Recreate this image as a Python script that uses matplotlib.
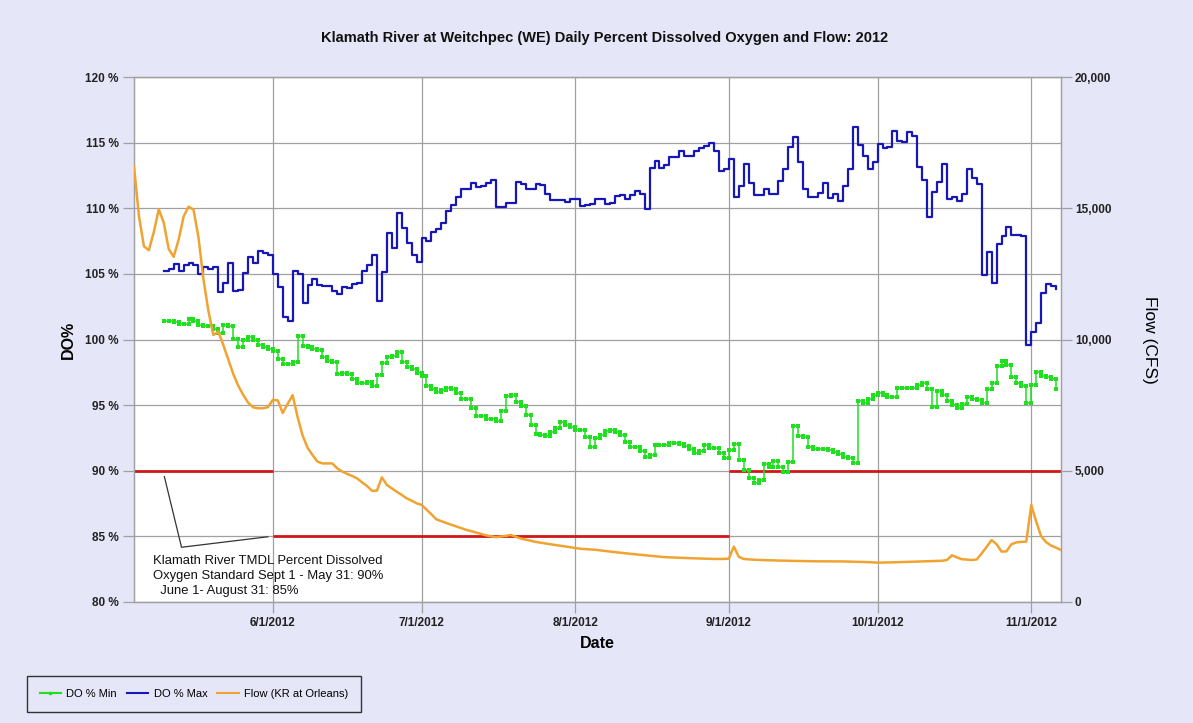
import numpy as np
import pandas as pd
import matplotlib
matplotlib.use('Agg')
import matplotlib.pyplot as plt
from matplotlib.lines import Line2D
from matplotlib.ticker import FuncFormatter

plt.rcParams['font.family'] = ['Liberation Sans', 'DejaVu Sans']

## Daily DO values (%), one per day starting 5/10/2012
do_start = '2012-05-10'
do_max = [105.2, 105.4, 105.73, 105.2, 105.7, 105.85, 105.7, 105.0, 105.55, 105.35, 105.55,
          103.65, 104.3, 105.85, 103.7, 103.8, 105.1, 106.3, 105.8, 106.72, 106.6, 106.46,
          # June
          105.0, 104.0, 101.74, 101.4, 105.2, 105.0, 102.76, 104.15, 104.6, 104.15, 104.1, 104.1,
          103.7, 103.47, 104.0, 103.9, 104.25, 104.3, 105.2, 105.7, 106.44, 102.9, 105.17, 108.14,
          106.95, 109.66, 108.47, 107.33, 106.44, 105.93,
          # July
          107.71, 107.53, 108.21, 108.39, 108.85, 109.81, 110.25, 110.88, 111.44, 111.44, 111.95,
          111.6, 111.7, 111.95, 112.15, 110.12, 110.12, 110.42, 110.42, 112.0, 111.85, 111.5,
          111.5, 111.85, 111.77, 111.1, 110.6, 110.65, 110.6, 110.45, 110.7,
          # August
          110.7, 110.2, 110.25, 110.3, 110.7, 110.7, 110.35, 110.4, 110.9, 111.0, 110.7, 111.0,
          111.3, 111.1, 109.92, 113.04, 113.62, 113.04, 113.3, 113.88, 113.88, 114.36, 113.98,
          113.98, 114.36, 114.57, 114.74, 114.95, 114.36, 112.84, 112.97,
          # September
          113.75, 110.83, 111.7, 113.35, 111.95, 111.0, 111.0, 111.44, 111.09, 111.09, 112.1,
          112.99, 114.64, 115.4, 113.55, 111.44, 110.83, 110.83, 111.2, 111.95, 110.76, 111.09,
          110.58, 111.7, 112.97, 116.17, 114.82, 113.98, 112.97, 113.55,
          # October
          114.9, 114.57, 114.7, 115.9, 115.15, 115.07, 115.83, 115.5, 113.17, 112.15, 109.36,
          111.26, 112.02, 113.37, 110.68, 110.83, 110.58, 111.09, 112.97, 112.28, 111.85, 104.91,
          106.69, 104.33, 107.28, 107.89, 108.55, 107.96, 107.96, 107.89, 99.58,
          # November
          100.6, 101.28, 103.57, 104.23, 104.08, 103.85]

do_min = [101.44, 101.4, 101.3, 101.2, 101.15, 101.59, 101.44, 101.1, 101.05, 101.0, 100.8,
          100.53, 101.1, 101.0, 100.07, 99.4, 99.95, 100.2, 99.95, 99.6, 99.45, 99.3,
          # June
          99.15, 98.55, 98.1, 98.1, 98.3, 100.25, 99.5, 99.45, 99.3, 99.2, 98.7, 98.4, 98.25,
          97.4, 97.45, 97.4, 97.0, 96.65, 96.7, 96.75, 96.45, 97.3, 98.24, 98.7, 98.75, 99.05,
          98.31, 97.93, 97.73, 97.47,
          # July
          97.22, 96.46, 96.2, 96.02, 96.15, 96.3, 96.2, 95.9, 95.44, 95.5, 94.76, 94.17, 94.14,
          93.97, 93.95, 93.81, 94.57, 95.7, 95.8, 95.26, 94.93, 94.25, 93.49, 92.8, 92.7, 92.65,
          92.95, 93.26, 93.71, 93.5, 93.3,
          # August
          93.1, 93.1, 92.55, 91.83, 92.5, 92.72, 93.0, 93.1, 92.97, 92.72, 92.21, 91.83, 91.78,
          91.53, 91.07, 91.2, 91.96, 91.96, 91.96, 92.14, 92.09, 92.04, 91.88, 91.63, 91.32,
          91.53, 91.96, 91.7, 91.7, 91.32, 90.94,
          # September
          91.58, 92.04, 90.82, 90.06, 89.42, 89.09, 89.29, 90.51, 90.32, 90.77, 90.32, 89.93,
          90.7, 93.41, 92.65, 92.55, 91.83, 91.63, 91.63, 91.63, 91.58, 91.45, 91.27, 91.07,
          90.94, 90.57, 95.34, 95.14, 95.44, 95.77,
          # October
          95.9, 95.77, 95.64, 95.59, 96.28, 96.28, 96.28, 96.28, 96.53, 96.66, 96.2, 94.83, 96.1,
          95.77, 95.34, 95.01, 94.76, 95.09, 95.59, 95.44, 95.4, 95.2, 96.2, 96.66, 97.98, 98.39,
          98.06, 97.17, 96.71, 96.45, 95.14,
          # November
          96.53, 97.55, 97.22, 97.17, 96.97, 96.2]

## Flow at Orleans (CFS)
flow_dates = ['2012-05-04', '2012-05-05', '2012-05-06', '2012-05-07', '2012-05-08', '2012-05-09',
              '2012-05-10', '2012-05-11', '2012-05-12', '2012-05-13', '2012-05-14', '2012-05-15',
              '2012-05-16', '2012-05-17', '2012-05-18', '2012-05-19', '2012-05-20', '2012-05-21',
              '2012-05-22', '2012-05-23', '2012-05-24', '2012-05-25', '2012-05-26', '2012-05-27',
              '2012-05-28', '2012-05-29', '2012-05-30', '2012-05-31', '2012-06-01', '2012-06-02',
              '2012-06-03', '2012-06-04', '2012-06-05', '2012-06-06', '2012-06-07', '2012-06-08',
              '2012-06-09', '2012-06-10', '2012-06-11', '2012-06-12', '2012-06-13', '2012-06-14',
              '2012-06-15', '2012-06-16', '2012-06-17', '2012-06-18', '2012-06-19', '2012-06-20',
              '2012-06-21', '2012-06-22', '2012-06-23', '2012-06-24', '2012-06-25', '2012-06-26',
              '2012-06-27', '2012-06-28', '2012-06-29', '2012-06-30', '2012-07-01', '2012-07-02',
              '2012-07-03', '2012-07-04', '2012-07-06', '2012-07-08', '2012-07-10', '2012-07-12',
              '2012-07-14', '2012-07-16', '2012-07-18', '2012-07-19', '2012-07-21', '2012-07-24',
              '2012-07-27', '2012-07-30', '2012-08-02', '2012-08-05', '2012-08-09', '2012-08-14',
              '2012-08-19', '2012-08-24', '2012-08-29', '2012-08-31', '2012-09-01', '2012-09-02',
              '2012-09-03', '2012-09-04', '2012-09-06', '2012-09-09', '2012-09-14', '2012-09-19',
              '2012-09-24', '2012-09-29', '2012-10-01', '2012-10-04', '2012-10-09', '2012-10-14',
              '2012-10-15', '2012-10-16', '2012-10-17', '2012-10-18', '2012-10-20', '2012-10-21',
              '2012-10-22', '2012-10-23', '2012-10-24', '2012-10-25', '2012-10-26', '2012-10-27',
              '2012-10-28', '2012-10-29', '2012-10-30', '2012-10-31', '2012-11-01', '2012-11-02',
              '2012-11-03', '2012-11-04', '2012-11-05', '2012-11-06', '2012-11-07']
flow_cfs = [16600, 14700, 13550, 13400, 14100, 14960, 14450, 13450, 13150, 13800, 14680, 15060,
            14950, 13900, 12300, 11100, 10170, 10300, 9800, 9250, 8700, 8250, 7900, 7600,
            7420, 7380, 7380, 7420, 7700, 7680, 7200, 7550, 7880, 7050, 6350, 5880,
            5600, 5350, 5280, 5280, 5280, 5090, 4970, 4880, 4800, 4710, 4560, 4420,
            4240, 4240, 4750, 4460, 4330, 4200, 4080, 3950, 3860, 3760, 3700, 3520,
            3340, 3150, 3010, 2880, 2750, 2650, 2540, 2470, 2520, 2553, 2420, 2290,
            2200, 2115, 2030, 1990, 1900, 1800, 1710, 1670, 1640, 1640, 1650, 2110,
            1720, 1640, 1610, 1590, 1565, 1550, 1545, 1520, 1500, 1510, 1540, 1570,
            1600, 1780, 1700, 1630, 1600, 1620, 1850, 2100, 2360, 2200, 1920, 1930,
            2200, 2270, 2290, 2300, 3700, 3060, 2500, 2280, 2150, 2070, 1980]

## Standard (TMDL) segments
std_bounds = ['2012-05-04', '2012-06-01', '2012-09-01', '2012-11-07']
std_values = [90, 85, 90]

tick_dates = ['2012-06-01', '2012-07-01', '2012-08-01', '2012-09-01', '2012-10-01', '2012-11-01']
tick_labels = ['6/1/2012', '7/1/2012', '8/1/2012', '9/1/2012', '10/1/2012', '11/1/2012']
do_ticks = [80, 85, 90, 95, 100, 105, 110, 115, 120]
flow_ticks = [0, 5000, 10000, 15000, 20000]

bg = '#e5e6f7'
grid_c = '#a0a0a0'
c_min = '#1ee01e'
c_max = '#1717b8'
c_flow = '#f0a331'
c_std = '#d01818'

days = pd.date_range(do_start, periods=len(do_max), freq='D')
fdates = pd.to_datetime(flow_dates)

fig = plt.figure(figsize=(11.93, 7.23), dpi=100, facecolor=bg)
ax = fig.add_axes([134 / 1193, 121 / 723, 927 / 1193, 525 / 723])
ax.set_facecolor('white')

## standard lines
b = pd.to_datetime(std_bounds)
for i, v in enumerate(std_values):
	ax.plot([b[i], b[i + 1]], [v, v], color=c_std, lw=2, zorder=3, solid_capstyle='butt')

## DO step lines
ax.plot(days, do_max, color=c_max, lw=1.6, drawstyle='steps-post', zorder=4)
ax.plot(days, do_min, color=c_min, lw=1.1, drawstyle='steps-post', zorder=4)
ends = days[1:]
ax.plot(days, do_min, ls='none', marker='s', ms=2.8, mew=0, color=c_min, zorder=5)
ax.plot(ends, do_min[:-1], ls='none', marker='s', ms=2.8, mew=0, color=c_min, zorder=5)

ax.set_xlim(pd.Timestamp('2012-05-04'), pd.Timestamp('2012-11-07'))
ax.set_ylim(80, 120)
ax.set_yticks(do_ticks)
ax.set_yticklabels(['%d %%' % v for v in do_ticks], fontweight='bold', fontsize=8.5)
ax.set_xticks(pd.to_datetime(tick_dates))
ax.set_xticklabels(tick_labels, fontweight='bold', fontsize=8.5)
ax.grid(True, color=grid_c, lw=0.9)
ax.set_axisbelow(True)
ax.tick_params(axis='both', direction='out', length=8, width=0.9, color=grid_c, colors='#222222', pad=3)
ax.tick_params(axis='both', color=grid_c)
for s in ax.spines.values():
	s.set_color(grid_c)
	s.set_linewidth(0.9)

## flow on second axis
ax2 = ax.twinx()
ax2.plot(fdates, flow_cfs, color=c_flow, lw=1.8, zorder=6)
ax2.set_ylim(0, 20000)
ax2.set_yticks(flow_ticks)
ax2.yaxis.set_major_formatter(FuncFormatter(lambda v, p: '{:,}'.format(int(v))))
for t in ax2.get_yticklabels():
	t.set_fontweight('bold')
	t.set_fontsize(8.5)
ax2.tick_params(axis='y', direction='out', length=8, width=0.9, color=grid_c, labelcolor='#222222', pad=2)
for s in ax2.spines.values():
	s.set_color(grid_c)
	s.set_linewidth(0.9)

## annotation for the standard
lead_x = pd.to_datetime(['2012-05-10 03:00', '2012-05-13 14:00', '2012-05-31 00:00'])
lead_y = [89.55, 84.17, 84.97]
ax.plot(lead_x, lead_y, color='#333333', lw=0.9, zorder=7)
ax.text(0.02, 0.089, 'Klamath River TMDL Percent Dissolved\nOxygen Standard Sept 1 - May 31: 90%\n  June 1- August 31: 85%',
	transform=ax.transAxes, ha='left', va='top', fontsize=9.4, linespacing=1.3, color='#111111', zorder=8)

## titles
fig.text(605 / 1193, 1 - 38 / 723, 'Klamath River at Weitchpec (WE) Daily Percent Dissolved Oxygen and Flow: 2012',
	ha='center', va='center', fontsize=10.5, fontweight='bold', color='#111111')
fig.text(68 / 1193, 1 - 340 / 723, 'DO%', rotation=90, ha='center', va='center', fontsize=11.5, fontweight='bold')
fig.text(597 / 1193, 1 - 643 / 723, 'Date', ha='center', va='center', fontsize=11.5, fontweight='bold')
fig.text(1150 / 1193, 1 - 340 / 723, 'Flow (CFS)', rotation=270, ha='center', va='center', fontsize=12.5)

## legend
handles = [Line2D([], [], color=c_min, lw=1.5, marker='s', ms=1.5),
	Line2D([], [], color=c_max, lw=1.5),
	Line2D([], [], color=c_flow, lw=1.5)]
labels = ['DO % Min', 'DO % Max', 'Flow (KR at Orleans)']
leg = fig.legend(handles, labels, loc='center', bbox_to_anchor=(194 / 1193, 1 - 694 / 723), ncol=3,
	fontsize=8, frameon=True, fancybox=False, edgecolor='#333333', facecolor=bg, framealpha=1,
	handlelength=1.9, handletextpad=0.5, columnspacing=0.9, borderpad=1.15, borderaxespad=0)
leg.get_frame().set_linewidth(1.0)

fig.savefig('out.png', dpi=100, facecolor=bg)
